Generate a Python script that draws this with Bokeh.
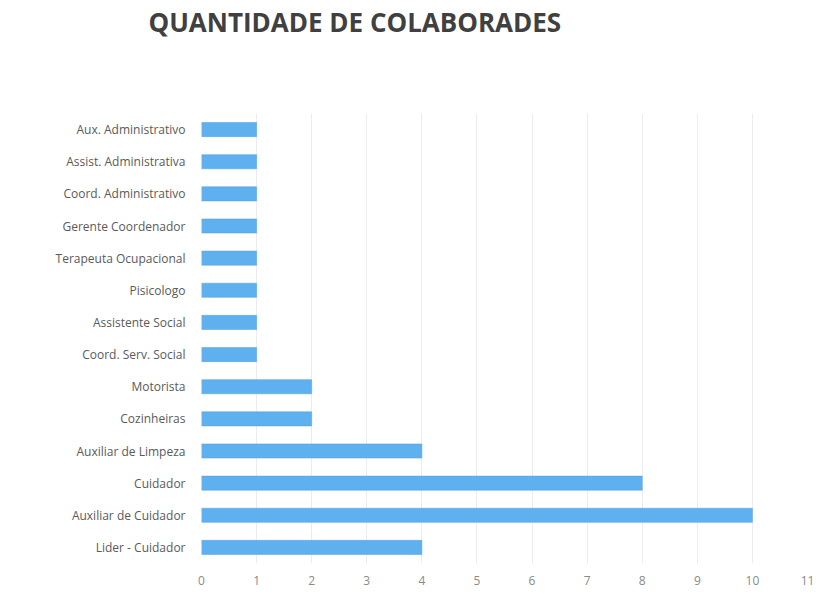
from bokeh.plotting import figure
from bokeh.models import FixedTicker, Range1d
from bokeh.embed import file_html
from bokeh.resources import INLINE

categories = ["Aux. Administrativo", "Assist. Administrativa", "Coord. Administrativo",
              "Gerente Coordenador", "Terapeuta Ocupacional", "Pisicologo",
              "Assistente Social", "Coord. Serv. Social", "Motorista", "Cozinheiras",
              "Auxiliar de Limpeza", "Cuidador", "Auxiliar de Cuidador", "Lider - Cuidador"]
values = [1, 1, 1, 1, 1, 1, 1, 1, 2, 2, 4, 8, 10, 4]
x_ticks = list(range(0, 12))
title_text = "QUANTIDADE DE COLABORADES"

W, H = 818, 596
factors = categories[::-1]
# two blank lines under the title lift it towards the top of the page
p = figure(width=W, height=H, y_range=factors, x_range=Range1d(0, 11),
           output_backend="svg", toolbar_location=None,
           title=title_text + "\n \n ")
p.min_border_left = 201
p.min_border_right = 11
p.min_border_top = 113
p.min_border_bottom = 33
p.hbar(y=categories, right=values, left=0, height=0.44, color="#5fb0ee",
       line_color="#52a0dc", line_width=0.5)

p.title.text_font = "Open Sans"
p.title.text_font_size = "26px"
p.title.text_font_style = "bold"
p.title.text_color = "#404040"
p.title.align = "left"
p.title.offset = -53
p.title.vertical_align = "top"
p.title.standoff = 0

p.outline_line_color = None
p.ygrid.grid_line_color = None
p.xgrid.grid_line_color = "#ececec"
p.xaxis.ticker = FixedTicker(ticks=x_ticks)
for ax in (p.xaxis, p.yaxis):
    ax.axis_line_color = None
    ax.major_tick_line_color = None
    ax.minor_tick_line_color = None
    ax.major_label_text_font = "Open Sans"
p.xaxis.major_label_text_font_size = "12px"
p.xaxis.major_label_text_color = "#8a8a8a"
p.xaxis.major_label_standoff = 6
p.yaxis.major_label_text_font_size = "12px"
p.yaxis.major_label_text_color = "#5a5a5a"
p.yaxis.major_label_standoff = 10
p.y_range.range_padding = 0

open("out.html", "w").write(file_html(p, INLINE))
